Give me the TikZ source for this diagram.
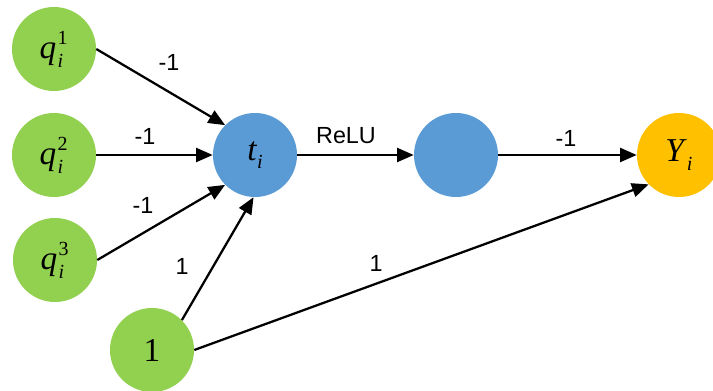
\documentclass[tikz,border=0pt]{standalone}
\usepackage{fontspec}
\setmainfont{Liberation Serif}
\newfontfamily\labelfont{Liberation Sans}
\usetikzlibrary{arrows.meta}
\definecolor{leafgreen}{HTML}{92D050}
\definecolor{cellblue}{HTML}{5B9BD5}
\definecolor{outgold}{HTML}{FFC000}

% q with stacked sub- and superscript
\newcommand{\qsym}[1]{\textit{q}\kern1pt\rlap{\raisebox{0.95ex}{\fontsize{15}{15}\selectfont #1}}\raisebox{-0.55ex}{\fontsize{15}{15}\selectfont\itshape i}\kern4pt}
\newcommand{\subi}[1]{\textit{#1}\raisebox{-0.55ex}{\fontsize{15}{15}\selectfont\itshape i}}

\begin{document}
\begin{tikzpicture}[x=0.75pt,y=-0.75pt,
  neuron/.style={circle,minimum size=63pt,inner sep=0pt,draw=none,
                 font=\fontsize{25}{25}\selectfont},
  link/.style={line width=1.7pt,-{Triangle[length=12.5pt,width=10.5pt]}},
  wt/.style={font=\labelfont\fontsize{17.5}{17.5}\selectfont,inner sep=0pt}]
  \clip (0,0) rectangle (713,391);
  \fill[white] (0,0) rectangle (713,391);

  % neurons
  \node[neuron,fill=leafgreen] (q1) at (54,49) {\qsym{1}};
  \node[neuron,fill=leafgreen] (q2) at (54,155) {\qsym{2}};
  \node[neuron,fill=leafgreen] (q3) at (55,260) {\qsym{3}};
  \node[neuron,fill=leafgreen] (one) at (152,350) {1};
  \node[neuron,fill=cellblue] (t) at (255,155) {\subi{t}};
  \node[neuron,fill=cellblue] (h) at (456,155) {};
  \node[neuron,fill=outgold] (y) at (679,155) {\subi{Y}};

  % connections
  \draw[link] (q1.east) -- (t.135);
  \draw[link] (q2.east) -- (t.west);
  \draw[link] (q3.east) -- (t.225);
  \draw[link] (one.45) -- (t.268);
  \draw[link] (t.east) -- (h.west);
  \draw[link] (h.east) -- (y.west);
  \draw[link] (one.east) -- (y.224);

  % weights
  \node[wt] (w1) at (169,62) {-1};
  \node[wt] (w2) at (145,136) {-1};
  \node[wt] (w3) at (143,205) {-1};
  \node[wt] (w4) at (182,266) {1};
  \node[wt] (w5) at (346,136) {ReLU};
  \node[wt] (w6) at (566,138) {-1};
  \node[wt] (w7) at (376,263) {1};
\end{tikzpicture}
\end{document}
